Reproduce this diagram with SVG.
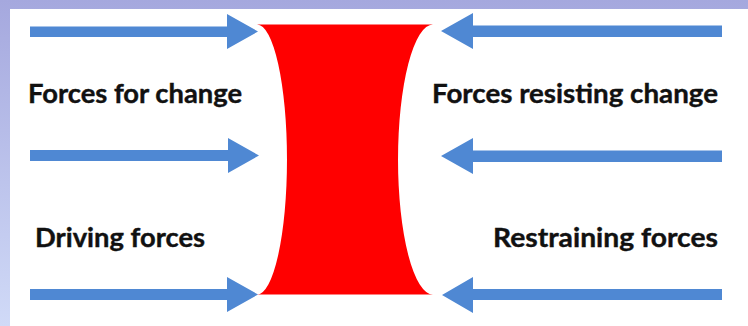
<svg xmlns="http://www.w3.org/2000/svg" width="748" height="326" viewBox="0 0 748 326">
  <defs>
    <linearGradient id="bg" x1="0" y1="0" x2="0" y2="1">
      <stop offset="0" stop-color="#a5a8de"/>
      <stop offset="1" stop-color="#d0daf7"/>
    </linearGradient>
  </defs>
  <style>
    .arrow { fill: #4f88d3; }
    .lbl { font-family: Lato, "Open Sans", "Liberation Sans", sans-serif; font-weight: bold; font-size: 27px; fill: #111111; stroke: #111111; stroke-width: 0.4px; }
  </style>
  <rect x="0" y="0" width="748" height="326" fill="url(#bg)"/>
  <rect x="10" y="9" width="738" height="317" fill="#ffffff"/>

  <g id="barrier">
    <path d="M257,24.5 H433 A35,135 0 0 0 433,294.5 H257 A30,135 0 0 0 257,24.5 Z" fill="#ff0000"/>
  </g>

  <g id="connectors">
    <path class="arrow" d="M30,26.5 H227 V14 L258,31.5 L227,49 V37 H30 Z"/>
    <path class="arrow" d="M30,150 H228 V138 L259,155.5 L228,173 V161 H30 Z"/>
    <path class="arrow" d="M30,289 H227 V277 L258,294.5 L227,312 V300 H30 Z"/>
    <path class="arrow" d="M722,25.5 H473 V13 L441,31 L473,49 V37 H722 Z"/>
    <path class="arrow" d="M722,150.5 H473 V138 L441,156 L473,174 V162 H722 Z"/>
    <path class="arrow" d="M722,289 H473 V277 L442,295 L473,313 V300 H722 Z"/>
  </g>

  <g id="forces-for-change">
    <text class="lbl" x="28" y="103" textLength="214" lengthAdjust="spacingAndGlyphs">Forces for change</text>
  </g>
  <g id="forces-resisting-change">
    <text class="lbl" x="432" y="103" textLength="286" lengthAdjust="spacingAndGlyphs">Forces resisting change</text>
  </g>
  <g id="driving-forces">
    <text class="lbl" x="35" y="247" textLength="170" lengthAdjust="spacingAndGlyphs">Driving forces</text>
  </g>
  <g id="restraining-forces">
    <text class="lbl" x="493" y="247" textLength="225" lengthAdjust="spacingAndGlyphs">Restraining forces</text>
  </g>
</svg>
